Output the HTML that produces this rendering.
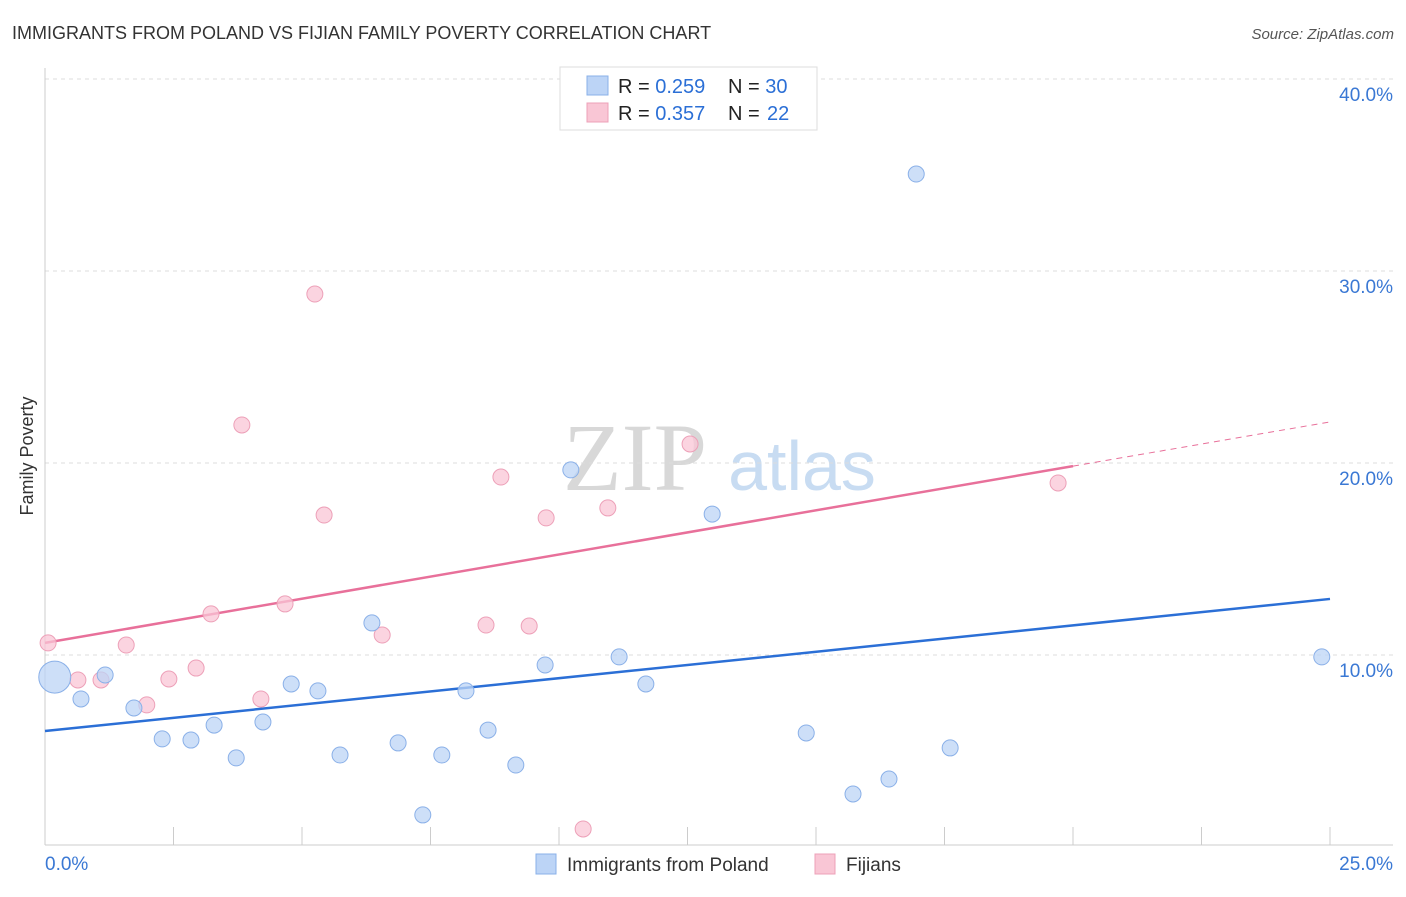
<!DOCTYPE html>
<html><head><meta charset="utf-8"><style>
body{margin:0;background:#fff;font-family:"Liberation Sans",sans-serif;}
</style></head><body>
<svg id="chart" width="1406" height="892" xmlns="http://www.w3.org/2000/svg" font-family="Liberation Sans, sans-serif">
<text x="12" y="39" font-size="18" fill="#333">IMMIGRANTS FROM POLAND VS FIJIAN FAMILY POVERTY CORRELATION CHART</text>
<text x="1394" y="39" font-size="15" fill="#555" text-anchor="end" font-style="italic">Source: ZipAtlas.com</text>
<text x="33" y="456" font-size="18" fill="#333" text-anchor="middle" transform="rotate(-90 33 456)">Family Poverty</text>
<g>
<text x="635" y="490" font-size="96" font-family="Liberation Serif, serif" fill="#d8d8d8" text-anchor="middle">ZIP</text>
<text x="802" y="490" font-size="70" fill="#c8dcf2" text-anchor="middle">atlas</text>
</g>
<g id="grid"></g><g id="axes"></g><g id="lines"></g><g id="points"></g>
<g>
<rect x="560" y="67" width="257" height="63" fill="#fff" stroke="#ddd"/>
<rect x="587" y="76" width="21" height="19" fill="#bcd4f6" stroke="#8ab0e8"/>
<rect x="587" y="103" width="21" height="19" fill="#f9c6d5" stroke="#eda0b8"/>
<text x="618" y="93" font-size="20" fill="#222">R = <tspan fill="#2b6fd6">0.259</tspan></text>
<text x="728" y="93" font-size="20" fill="#222">N = <tspan fill="#2b6fd6">30</tspan></text>
<text x="618" y="120" font-size="20" fill="#222">R = <tspan fill="#2b6fd6">0.357</tspan></text>
<text x="728" y="120" font-size="20" fill="#222">N = <tspan fill="#2b6fd6" x="767">22</tspan></text>
</g>
<g>
<rect x="536" y="854" width="20" height="20" fill="#bcd4f6" stroke="#8ab0e8"/>
<text x="567" y="871" font-size="19" fill="#333">Immigrants from Poland</text>
<rect x="815" y="854" width="20" height="20" fill="#f9c6d5" stroke="#eda0b8"/>
<text x="846" y="871" font-size="19" fill="#333">Fijians</text>
</g>
</svg>
<script>
const blueX=[0.19,0.70,1.17,1.73,2.28,2.84,3.29,3.72,4.24,4.79,5.31,5.74,6.36,6.87,7.35,7.72,8.19,8.62,9.16,9.73,10.23,11.17,11.69,12.98,14.81,15.72,16.42,16.95,17.61,24.84];
const blueY=[8.85,7.71,8.96,7.24,5.63,5.57,6.35,4.64,6.51,8.49,8.13,4.79,11.67,5.42,1.67,4.79,8.13,6.09,4.27,9.48,19.64,9.90,8.49,17.34,5.94,2.76,3.54,35.05,5.16,9.90];
const pinkX=[0.06,0.64,1.09,1.58,1.98,2.41,2.94,3.23,3.83,4.20,4.67,5.25,5.43,6.56,8.58,8.87,9.42,9.75,10.47,10.95,12.55,19.71];
const pinkY=[10.63,8.70,8.70,10.52,7.40,8.75,9.32,12.14,21.98,7.71,12.66,28.80,17.29,11.04,11.56,19.27,11.51,17.14,0.94,17.66,20.99,18.96];
const yTicks=[10,20,30,40];
const yTickLabels=["10.0%","20.0%","30.0%","40.0%"];
const blueTrend=[6.04,12.92];
const pinkTrend=[10.63,22.14];
const NS="http://www.w3.org/2000/svg";
const sx=v=>45+v/25*1285, sy=v=>847-v*19.2;
function mk(p,tag,a){const e=document.createElementNS(NS,tag);for(const k in a)e.setAttribute(k,a[k]);document.getElementById(p).appendChild(e);return e;}
yTicks.forEach((t,i)=>{
 const g=mk('grid','line',{x1:45,x2:1393,y1:sy(t),y2:sy(t),stroke:'#ddd','stroke-dasharray':'4 4'});
 
 
 const l=mk('grid','text',{x:1393,y:sy(t)+22,'font-size':19,fill:'#3a78d4','text-anchor':'end'});
 l.textContent=yTickLabels[i];
 
 
});
const topLine=mk('grid','line',{x1:45,x2:1393,y1:79,y2:79,stroke:'#ddd','stroke-dasharray':'4 4'});


const ya=mk('axes','line',{x1:45,x2:45,y1:68,y2:845,stroke:'#ccc'});


const xa=mk('axes','line',{x1:45,x2:1393,y1:845,y2:845,stroke:'#ccc'});


for(let i=1;i<=10;i++){const t=mk('axes','line',{x1:sx(i*2.5),x2:sx(i*2.5),y1:827,y2:845,stroke:'#ccc'});
 
 }
const xl0=mk('axes','text',{x:45,y:870,'font-size':19,fill:'#3a78d4'});xl0.textContent='0.0%';


const xl1=mk('axes','text',{x:1393,y:870,'font-size':19,fill:'#3a78d4','text-anchor':'end'});xl1.textContent='25.0%';


function trend(tr,col,solidEnd,name){
 const y=v=>tr[0]+(tr[1]-tr[0])*v/25;
 const a=mk('lines','line',{x1:sx(0),y1:sy(y(0)),x2:sx(solidEnd),y2:sy(y(solidEnd)),stroke:col,'stroke-width':2.5});
 
 
 if(solidEnd<25){const b=mk('lines','line',{x1:sx(solidEnd),y1:sy(y(solidEnd)),x2:sx(25),y2:sy(y(25)),stroke:col,'stroke-width':1,'stroke-dasharray':'6 5'});
 
 }
}
trend(blueTrend,'#2b6fd6',25,'poland-trend-line');
trend(pinkTrend,'#e8709a',20,'fijian-trend-line');
pinkX.forEach((v,i)=>{const c=mk('points','circle',{cx:sx(v),cy:sy(pinkY[i]),r:8,fill:'#f9c6d5','fill-opacity':0.75,stroke:'#eda0b8'});
 
 });
blueX.forEach((v,i)=>{const c=mk('points','circle',{cx:sx(v),cy:sy(blueY[i]),r:i==0?16:8,fill:'#bcd4f6','fill-opacity':0.75,stroke:'#8ab0e8'});
 
 });
</script>
</body></html>
